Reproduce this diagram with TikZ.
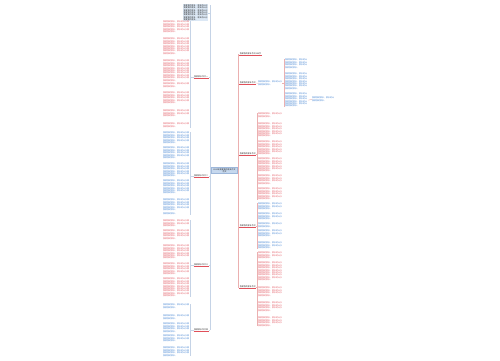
\documentclass[tikz,border=0pt]{standalone}
\usepackage{fontspec}
\newfontfamily\cjk{Noto Sans CJK SC}
\setlength\parindent{0pt}
\definecolor{cred}{HTML}{E0505A}
\definecolor{cblue}{HTML}{3C7FD0}
\definecolor{trR}{HTML}{EBB0B0}
\definecolor{trL}{HTML}{C5D3E6}
\definecolor{cfill}{HTML}{C6D8EE}
\definecolor{cdraw}{HTML}{9DB7DA}
\definecolor{tfill}{HTML}{DCE8F5}
\newcommand\sXIII{我爱我的家乡，家乡的山水美}
\newcommand\sXII{我爱我的家乡，家乡的山水}
\newcommand\sXI{我爱我的家乡，家乡的山}
\newcommand\ft[2]{\noindent\ifnum#1>1 \foreach \i in {2,...,#1}{\csname s#2\endcsname\newline}\fi 我爱我的家乡。}
\tikzset{
  base/.style={inner sep=0pt, font=\cjk\fontsize{2}{2.4}\selectfont},
  leaf/.style={base, anchor=north west, text width=#1, align=left},
  lab/.style={base, text=black!85, inner sep=0.3pt},
  center/.style={base, fill=cfill, draw=cdraw, line width=0.3pt, text width=24pt, align=center, inner sep=0.9pt, text=black!85},
  topbox/.style={base, anchor=north west, fill=tfill, text width=24pt, inner sep=0.5pt, align=left, text=black!85},
  lineR/.style={draw=trR, line width=0.4pt},
  lineL/.style={draw=trL, line width=0.4pt},
  uline/.style={draw=cred, line width=0.35pt},
}
\begin{document}
\begin{tikzpicture}[x=1pt,y=-1pt]
\useasboundingbox (0,0) rectangle (500,360);
% trunk coordinates
\coordinate (LT-top) at (210,5);
\coordinate (LT-bot) at (210,330);
\coordinate (RT-top) at (238,54);
\coordinate (RT-bot) at (238,287);
\coordinate (bxL) at (190.5,0);
\coordinate (bxR) at (256.8,0);
\coordinate (bx2) at (283.8,0);
\draw[lineL] (LT-top) -- (LT-bot);
\draw[lineR] (RT-top) -- (RT-bot);
% central
\node[center] (C) at (224.5,170.5) {2022年我爱我的家乡作文\\范文};
\draw[lineL] (C.west) -- (C.west -| LT-top);
\draw[lineR] (C.east) -- (C.east -| RT-top);
% top box
\node[topbox] (T) at (183,4) {\ft{7}{XII}};
\draw[lineL] (T.east) -- (T.east -| LT-top);
% left labels
\foreach \y/\t [count=\k] in {77/我爱家乡作文一, 176/我爱家乡作文二, 265/我爱家乡作文三, 330/我爱家乡作文四} {
  \node[lab, anchor=east] (L\k) at (208.6,\y) {\t};
  \draw[uline] (L\k.south west) -- (L\k.south east);
  \draw[lineL] (L\k.east) -- (L\k.east -| LT-top);
  \draw[lineL] (L\k.west) -- (L\k.west -| bxL);
}
% right labels
\foreach \y/\t [count=\k] in {54/我爱我的家乡作文600字, 83/我爱我的家乡作文, 154/我爱我的家乡作文, 226/我爱我的家乡作文, 287/我爱我的家乡作文} {
  \node[lab, anchor=west] (R\k) at (239.4,\y) {\t};
  \draw[uline] (R\k.south west) -- (R\k.south east);
  \draw[lineR] (R\k.west) -- (R\k.west -| RT-top);
}
% left leaves
\foreach \y/\n [count=\k] in {21/5,38/7,60/9,83/2,92/5,110/3,123/2}
  \node[leaf=26pt, text=cred] (LA\k) at (163,\y) {\ft{\n}{XIII}};
\foreach \y/\n [count=\k] in {132/5,147/5,163/6,180/6,199/5,213/1}
  \node[leaf=26pt, text=cblue] (LB\k) at (163,\y) {\ft{\n}{XIII}};
\foreach \y/\n [count=\k] in {220/3,230/4,245/6,263/5,278/8}
  \node[leaf=26pt, text=cred] (LC\k) at (163,\y) {\ft{\n}{XIII}};
\foreach \y/\n [count=\k] in {304/2,315/2,323/4,335/3,347/4}
  \node[leaf=26pt, text=cblue] (LD\k) at (163,\y) {\ft{\n}{XIII}};
\draw[lineL] (LA1.north east -| bxL) -- (LA7.south east -| bxL);
\draw[lineL] (LB1.north east -| bxL) -- (LB6.south east -| bxL);
\draw[lineL] (LC1.north east -| bxL) -- (LC5.south east -| bxL);
\draw[lineL] (LD1.north east -| bxL) -- (LD5.south east -| bxL);
% right branch 2
\node[leaf=24pt, text=cblue] (R2c) at (258,81) {\ft{2}{XII}};
\draw[lineR] (R2.east) -- (R2c.west);
\foreach \y/\n [count=\k] in {59/4,73/7,93/6}
  \node[leaf=23pt, text=cblue] (RB\k) at (285,\y) {\ft{\n}{XI}};
\draw[lineR] (RB1.north west -| bx2) -- (RB3.south west -| bx2);
\draw[lineR] (R2c.east) -- (R2c.east -| bx2);
\node[leaf=22pt, text=cblue] (RBB) at (312,97) {\ft{2}{XI}};
\draw[lineR] (RB3.east) -- (RBB.west);
% right branch 3
\foreach \y/\n [count=\k] in {113/2,123/6,141/6,158/6,175/4,188/5}
  \node[leaf=24pt, text=cred] (RC\k) at (258,\y) {\ft{\n}{XII}};
\draw[lineR] (RC1.north west -| bxR) -- (RC6.south west -| bxR);
\draw[lineR] (R3.east) -- (R3.east -| bxR);
% right branch 4
\foreach \y/\n [count=\k] in {203/3,213/3,223/2,230/3,242/3}
  \node[leaf=24pt, text=cblue] (RD\k) at (258,\y) {\ft{\n}{XII}};
\draw[lineR] (RD1.north west -| bxR) -- (RD5.south west -| bxR);
\draw[lineR] (R4.east) -- (R4.east -| bxR);
% right branch 5
\foreach \y/\n [count=\k] in {252/3,262/8,287/4,302/4,317/4}
  \node[leaf=24pt, text=cred] (RE\k) at (258,\y) {\ft{\n}{XII}};
\draw[lineR] (RE1.north west -| bxR) -- (RE5.south west -| bxR);
\draw[lineR] (R5.east) -- (R5.east -| bxR);
\end{tikzpicture}
\end{document}
